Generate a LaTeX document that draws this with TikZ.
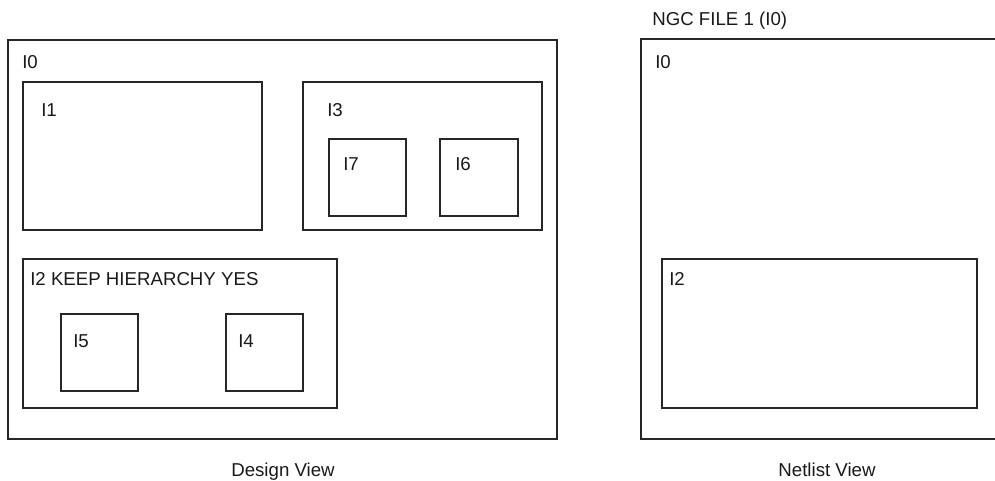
\documentclass[tikz,border=0pt]{standalone}
\usepackage{fontspec}
\setmainfont{Liberation Sans}
\usetikzlibrary{fit}
\begin{document}
\begin{tikzpicture}[x=0.75pt,y=-0.75pt,
  box/.style={draw=black!85, line width=1.3pt, inner sep=0pt, rectangle},
  lbl/.style={anchor=base west, inner sep=0pt, font=\fontsize{14}{16}\selectfont, text=black!90},
  caption/.style={anchor=base, inner sep=0pt, font=\fontsize{14}{16}\selectfont, text=black!90}]
\useasboundingbox (0,0) rectangle (995,481);
\clip (0,0) rectangle (995,481);
% Design view
\node[box, fit={(8,40) (557,439)}] (d0) {};
\node[lbl] (d0l) at (22,69) {I0};
\node[box, fit={(23,82) (262,230)}] (d1) {};
\node[lbl] (d1l) at (41,117) {I1};
\node[box, fit={(303,82) (542,230)}] (d3) {};
\node[lbl] (d3l) at (327,117) {I3};
\node[box, fit={(329,139) (406,216)}] (d7) {};
\node[lbl] (d7l) at (343,171) {I7};
\node[box, fit={(440,139) (518,216)}] (d6) {};
\node[lbl] (d6l) at (455,171) {I6};
\node[box, fit={(23,259) (337,408)}] (d2) {};
\node[lbl] (d2l) at (30,285) {I2 KEEP HIERARCHY YES};
\node[box, fit={(61,314) (138,391)}] (d5) {};
\node[lbl] (d5l) at (73,347) {I5};
\node[box, fit={(226,314) (303,391)}] (d4) {};
\node[lbl] (d4l) at (238,347) {I4};
\node[caption] (dv) at (283,476) {Design View};
% Netlist view
\node[lbl] (ngc) at (652,26) {NGC FILE 1 (I0)};
\node[box, fit={(641,39) (1010,439)}] (n0) {};
\node[lbl] (n0l) at (655,69) {I0};
\node[box, fit={(662,259) (977,408)}] (n2) {};
\node[lbl] (n2l) at (669,285) {I2};
\node[caption] (nv) at (827,476) {Netlist View};
\end{tikzpicture}
\end{document}
